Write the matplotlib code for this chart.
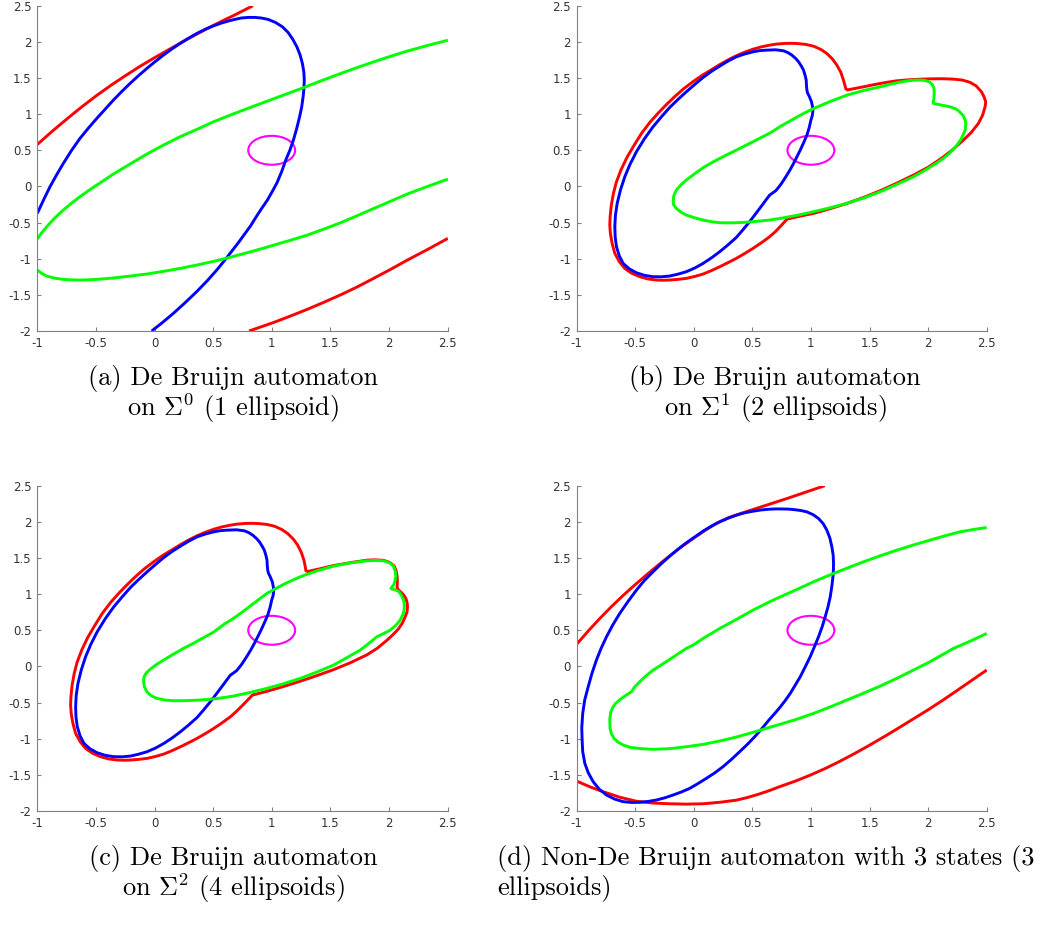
import matplotlib
matplotlib.use('Agg')
import matplotlib.pyplot as plt
from matplotlib.patches import Ellipse

plt.rcParams['axes.unicode_minus'] = False
plt.rcParams['mathtext.fontset'] = 'cm'

# ---------------- data ----------------
xticks = [-1, -0.5, 0, 0.5, 1, 1.5, 2, 2.5]
xticklabels = ['-1', '-0.5', '0', '0.5', '1', '1.5', '2', '2.5']
yticks = [-2, -1.5, -1, -0.5, 0, 0.5, 1, 1.5, 2, 2.5]
yticklabels = ['-2', '-1.5', '-1', '-0.5', '0', '0.5', '1', '1.5', '2', '2.5']

target_center = (1.0, 0.5)
target_size = (0.4, 0.4)

# panel (a)
red_a1_x = [-1.0, -0.875, -0.75, -0.625, -0.5, -0.375, -0.25, -0.125, 0.0, 0.125, 0.25,
            0.375, 0.5, 0.585, 0.67, 0.755, 0.84]
red_a1_y = [0.58, 0.76, 0.93, 1.095, 1.25, 1.395, 1.53, 1.66, 1.78, 1.895, 2.01,
            2.12, 2.225, 2.295, 2.36, 2.43, 2.50]
red_a2_x = [0.807, 0.91, 1.02, 1.16, 1.304, 1.446, 1.588, 1.73, 1.872, 2.014, 2.156, 2.33, 2.503]
red_a2_y = [-2.0, -1.942, -1.88, -1.793, -1.70, -1.602, -1.50, -1.39, -1.27, -1.148, -1.02,
            -0.872, -0.719]
green_a1_x = [-1.0, -0.96, -0.92, -0.85, -0.778, -0.707, -0.636, -0.565, -0.493, -0.351, -0.209,
              -0.066, 0.076, 0.218, 0.36, 0.503, 0.645, 0.773, 0.90, 1.02, 1.15, 1.276, 1.43,
              1.588, 1.73, 1.872, 2.014, 2.156, 2.33, 2.503]
green_a1_y = [-0.728, -0.635, -0.558, -0.435, -0.327, -0.23, -0.143, -0.06, 0.018, 0.171, 0.309,
              0.447, 0.571, 0.687, 0.788, 0.894, 0.986, 1.065, 1.142, 1.215, 1.293, 1.369, 1.466,
              1.562, 1.645, 1.724, 1.80, 1.872, 1.95, 2.022]
green_a2_x = [-1.0, -0.96, -0.92, -0.85, -0.778, -0.707, -0.636, -0.565, -0.493, -0.351, -0.209,
              -0.066, 0.076, 0.218, 0.36, 0.503, 0.645, 0.773, 0.90, 1.02, 1.16, 1.304, 1.446,
              1.588, 1.73, 1.872, 2.014, 2.156, 2.33, 2.503]
green_a2_y = [-1.157, -1.205, -1.24, -1.27, -1.286, -1.293, -1.295, -1.292, -1.286, -1.267, -1.240,
              -1.212, -1.175, -1.134, -1.088, -1.037, -0.98, -0.925, -0.868, -0.811, -0.745,
              -0.673, -0.59, -0.502, -0.405, -0.304, -0.205, -0.106, 0.0, 0.101]
blue_a_x = [-0.024, 0.07, 0.161, 0.26, 0.36, 0.45, 0.531, 0.59, 0.645, 0.71, 0.773, 0.82, 0.86,
            0.91, 0.963, 1.005, 1.045, 1.085, 1.12, 1.155, 1.185, 1.213, 1.238, 1.256, 1.268,
            1.275, 1.278, 1.274, 1.262, 1.242, 1.215, 1.18, 1.14, 1.09, 1.03, 0.97, 0.91, 0.855,
            0.80, 0.74, 0.645, 0.575, 0.503, 0.43, 0.36, 0.29, 0.218, 0.147, 0.076, 0.005,
            -0.066, -0.138, -0.209, -0.28, -0.351, -0.42, -0.493, -0.565, -0.636, -0.707,
            -0.778, -0.836, -0.892, -0.946, -1.0]
blue_a_y = [-2.0, -1.88, -1.756, -1.61, -1.456, -1.305, -1.157, -1.04, -0.926, -0.79, -0.65,
            -0.545, -0.44, -0.315, -0.19, -0.07, 0.05, 0.205, 0.364, 0.50, 0.64, 0.80, 0.963,
            1.10, 1.24, 1.355, 1.47, 1.585, 1.70, 1.82, 1.93, 2.035, 2.13, 2.21, 2.27, 2.31,
            2.33, 2.338, 2.338, 2.33, 2.295, 2.262, 2.221, 2.172, 2.115, 2.05, 1.977, 1.90,
            1.816, 1.726, 1.631, 1.53, 1.424, 1.312, 1.194, 1.07, 0.94, 0.805, 0.664, 0.50,
            0.318, 0.158, -0.005, -0.185, -0.373]

# panel (b)
red_b_x = [1.301, 1.29, 1.278, 1.255, 1.222, 1.185, 1.136, 1.085, 1.023, 0.955, 0.881, 0.83,
           0.776, 0.70, 0.648, 0.575, 0.506, 0.435, 0.364, 0.293, 0.222, 0.15, 0.07, -0.005,
           -0.083, -0.157, -0.228, -0.30, -0.372, -0.445, -0.512, -0.57, -0.62, -0.66, -0.685,
           -0.703, -0.713, -0.716, -0.711, -0.696, -0.673, -0.635, -0.588, -0.53, -0.46, -0.39,
           -0.318, -0.26, -0.205, -0.135, -0.063, 0.01, 0.08, 0.15, 0.222, 0.293, 0.364, 0.435,
           0.506, 0.577, 0.648, 0.70, 0.75, 0.797, 0.91, 1.023, 1.165, 1.307, 1.45, 1.591, 1.733,
           1.875, 2.0, 2.102, 2.2, 2.301, 2.37, 2.429, 2.465, 2.486, 2.492, 2.477, 2.455, 2.41,
           2.358, 2.29, 2.216, 2.12, 2.017, 1.945, 1.875, 1.805, 1.733, 1.662, 1.591, 1.52,
           1.449, 1.375, 1.301]
red_b_y = [1.332, 1.40, 1.47, 1.58, 1.677, 1.76, 1.839, 1.895, 1.94, 1.965, 1.977, 1.98,
           1.978, 1.968, 1.954, 1.93, 1.898, 1.857, 1.808, 1.75, 1.685, 1.613, 1.535, 1.45,
           1.355, 1.25, 1.14, 1.02, 0.89, 0.735, 0.56, 0.40, 0.23, 0.06, -0.097, -0.26,
           -0.419, -0.535, -0.65, -0.79, -0.926, -1.04, -1.134, -1.20, -1.249, -1.28, -1.295,
           -1.298, -1.295, -1.286, -1.272, -1.245, -1.212, -1.165, -1.111, -1.054, -0.995,
           -0.928, -0.857, -0.78, -0.696, -0.62, -0.535, -0.452, -0.41, -0.373, -0.308, -0.235,
           -0.152, -0.06, 0.045, 0.157, 0.265, 0.375, 0.495, 0.641, 0.75, 0.871, 0.985, 1.101,
           1.17, 1.24, 1.31, 1.39, 1.44, 1.472, 1.484, 1.49, 1.488, 1.484, 1.479, 1.471, 1.461,
           1.444, 1.424, 1.402, 1.378, 1.355, 1.332]
blue_b_x = [0.619, 0.56, 0.506, 0.435, 0.364, 0.293, 0.222, 0.15, 0.08, 0.01, -0.063, -0.135,
            -0.205, -0.275, -0.347, -0.42, -0.489, -0.545, -0.588, -0.625, -0.653, -0.668, -0.673,
            -0.67, -0.659, -0.635, -0.602, -0.55, -0.489, -0.42, -0.347, -0.275, -0.205, -0.135,
            -0.063, 0.01, 0.08, 0.15, 0.222, 0.293, 0.364, 0.42, 0.477, 0.535, 0.591, 0.62, 0.648,
            0.70, 0.739, 0.767, 0.795, 0.824, 0.852, 0.88, 0.909, 0.938, 0.966, 0.985, 1.0, 1.012,
            1.017, 1.014, 1.005, 0.985, 0.972, 0.966, 0.962, 0.96, 0.95, 0.937, 0.92, 0.895,
            0.87, 0.838, 0.805, 0.767, 0.70, 0.619]
blue_b_y = [1.885, 1.878, 1.862, 1.832, 1.793, 1.734, 1.664, 1.59, 1.507, 1.412, 1.309, 1.202,
            1.092, 0.964, 0.825, 0.66, 0.479, 0.30, 0.134, -0.05, -0.235, -0.40, -0.558, -0.70,
            -0.834, -0.96, -1.065, -1.14, -1.194, -1.23, -1.249, -1.25, -1.24, -1.214, -1.18,
            -1.128, -1.065, -0.99, -0.903, -0.808, -0.705, -0.60, -0.488, -0.365, -0.244, -0.18,
            -0.12, -0.06, 0.018, 0.085, 0.157, 0.235, 0.318, 0.408, 0.502, 0.605, 0.71, 0.81,
            0.917, 0.98, 1.04, 1.10, 1.171, 1.25, 1.29, 1.332, 1.40, 1.47, 1.54, 1.608, 1.66,
            1.724, 1.77, 1.816, 1.85, 1.876, 1.89, 1.885]
green_b_x = [-0.176, -0.17, -0.148, -0.11, -0.063, 0.008, 0.08, 0.15, 0.222, 0.293, 0.364,
             0.435, 0.506, 0.58, 0.66, 0.739, 0.81, 0.881, 0.95, 1.023, 1.165, 1.307, 1.45,
             1.591, 1.67, 1.75, 1.815, 1.88, 1.93, 1.965, 1.995, 2.02, 2.04, 2.05, 2.052, 2.05,
             2.043, 2.10, 2.19, 2.24, 2.27, 2.30, 2.315, 2.322, 2.32, 2.315, 2.30, 2.28, 2.25,
             2.215, 2.17, 2.12, 2.06, 1.97, 1.875, 1.733, 1.591, 1.45, 1.307, 1.165, 1.023, 0.88,
             0.739, 0.648, 0.506, 0.435, 0.364, 0.293, 0.222, 0.15, 0.08, 0.01, -0.063, -0.11,
             -0.148, -0.17, -0.176]
green_b_y = [-0.212, -0.13, -0.051, 0.02, 0.088, 0.175, 0.258, 0.325, 0.387, 0.446, 0.502,
             0.56, 0.618, 0.68, 0.747, 0.83, 0.895, 0.96, 1.02, 1.078, 1.175, 1.263, 1.327,
             1.378, 1.41, 1.44, 1.458, 1.47, 1.472, 1.468, 1.455, 1.435, 1.40, 1.355, 1.30, 1.22,
             1.15, 1.13, 1.10, 1.07, 1.03, 0.98, 0.92, 0.875, 0.83, 0.77, 0.72, 0.65, 0.58, 0.51,
             0.44, 0.375, 0.31, 0.22, 0.134, 0.028, -0.074, -0.16, -0.235, -0.295, -0.35, -0.40,
             -0.442, -0.465, -0.488, -0.497, -0.502, -0.504, -0.502, -0.488, -0.465, -0.435,
             -0.396, -0.355, -0.304, -0.26, -0.212]

# panel (c)
red_c_x = [1.294, 1.285, 1.275, 1.252, 1.222, 1.185, 1.136, 1.085, 1.023, 0.955, 0.881, 0.83,
           0.776, 0.70, 0.648, 0.575, 0.506, 0.435, 0.364, 0.293, 0.222, 0.15, 0.07, -0.005,
           -0.083, -0.157, -0.228, -0.30, -0.372, -0.445, -0.512, -0.57, -0.62, -0.66, -0.685,
           -0.703, -0.713, -0.716, -0.711, -0.696, -0.673, -0.635, -0.588, -0.53, -0.46, -0.39,
           -0.318, -0.26, -0.205, -0.135, -0.063, 0.01, 0.08, 0.15, 0.222, 0.293, 0.364, 0.435,
           0.506, 0.577, 0.648, 0.70, 0.75, 0.836, 0.958, 1.10, 1.243, 1.385, 1.527, 1.67, 1.812,
           1.90, 1.982, 2.035, 2.082, 2.115, 2.139, 2.155, 2.159, 2.155, 2.145, 2.125, 2.10,
           2.08, 2.07, 2.072, 2.07, 2.062, 2.045, 2.005, 1.954, 1.88, 1.812, 1.67, 1.527, 1.41,
           1.294]
red_c_y = [1.309, 1.39, 1.47, 1.58, 1.677, 1.76, 1.839, 1.895, 1.94, 1.965, 1.977, 1.98,
           1.978, 1.968, 1.954, 1.93, 1.898, 1.857, 1.808, 1.75, 1.685, 1.613, 1.535, 1.45,
           1.355, 1.25, 1.14, 1.02, 0.89, 0.735, 0.56, 0.40, 0.23, 0.06, -0.097, -0.26,
           -0.419, -0.535, -0.65, -0.79, -0.926, -1.04, -1.134, -1.20, -1.249, -1.28, -1.295,
           -1.298, -1.295, -1.286, -1.272, -1.245, -1.212, -1.165, -1.111, -1.054, -0.995,
           -0.928, -0.857, -0.78, -0.696, -0.62, -0.54, -0.396, -0.345, -0.278, -0.205, -0.128,
           -0.045, 0.05, 0.16, 0.25, 0.36, 0.44, 0.52, 0.60, 0.687, 0.755, 0.825, 0.885, 0.94,
           0.99, 1.03, 1.06, 1.09, 1.17, 1.25, 1.32, 1.39, 1.44, 1.468, 1.474, 1.47, 1.435,
           1.395, 1.35, 1.309]
blue_c_x = list(blue_b_x)
blue_c_y = list(blue_b_y)
green_c_x = [-0.094, -0.088, -0.07, -0.03, 0.02, 0.09, 0.162, 0.248, 0.333, 0.42, 0.50, 0.55,
             0.60, 0.665, 0.731, 0.845, 0.958, 1.10, 1.243, 1.385, 1.527, 1.67, 1.812, 1.885,
             1.954, 2.005, 2.039, 2.055, 2.059, 2.052, 2.04, 2.017, 2.05, 2.082, 2.108, 2.125,
             2.132, 2.13, 2.118, 2.096, 2.06, 2.011, 1.955, 1.897, 1.83, 1.755, 1.64, 1.527, 1.385,
             1.243, 1.10, 0.958, 0.816, 0.674, 0.532, 0.39, 0.276, 0.162, 0.09, 0.02, -0.03,
             -0.065, -0.088, -0.094]
green_c_y = [-0.189, -0.14, -0.09, -0.03, 0.03, 0.10, 0.17, 0.25, 0.32, 0.40, 0.47, 0.53, 0.59,
             0.655, 0.73, 0.87, 1.009, 1.135, 1.24, 1.322, 1.387, 1.433, 1.461, 1.466, 1.461,
             1.435, 1.387, 1.31, 1.24, 1.18, 1.13, 1.078, 1.06, 1.04, 0.98, 0.917, 0.85, 0.779,
             0.71, 0.641, 0.57, 0.502, 0.455, 0.41, 0.32, 0.226, 0.12, 0.018, -0.078, -0.166,
             -0.24, -0.304, -0.36, -0.41, -0.445, -0.465, -0.473, -0.475, -0.465, -0.442, -0.405,
             -0.35, -0.275, -0.189]

# panel (d)
red_d1_x = [-1.0, -0.9, -0.8, -0.7, -0.6, -0.5, -0.4, -0.3, -0.2, -0.1, 0.0, 0.1, 0.2, 0.3,
            0.4, 0.5, 0.6, 0.7, 0.8, 0.9, 1.0, 1.118]
red_d1_y = [0.304, 0.49, 0.665, 0.83, 0.985, 1.13, 1.27, 1.405, 1.535, 1.66, 1.775, 1.885,
            1.985, 2.06, 2.115, 2.168, 2.22, 2.272, 2.325, 2.38, 2.435, 2.50]
red_d2_x = [-1.0, -0.887, -0.773, -0.63, -0.489, -0.347, -0.205, -0.06, 0.08, 0.22, 0.364,
            0.455, 0.55, 0.645, 0.739, 0.87, 1.0, 1.125, 1.25, 1.375, 1.5, 1.625, 1.75, 1.875,
            2.0, 2.125, 2.25, 2.375, 2.5]
red_d2_y = [-1.585, -1.665, -1.733, -1.81, -1.865, -1.89, -1.90, -1.905, -1.90, -1.88, -1.85,
            -1.815, -1.77, -1.718, -1.66, -1.585, -1.50, -1.41, -1.31, -1.203, -1.09, -0.972,
            -0.85, -0.725, -0.60, -0.468, -0.33, -0.19, -0.05]
green_d_x = [2.5, 2.39, 2.273, 2.145, 2.017, 1.875, 1.733, 1.59, 1.449, 1.32, 1.193, 1.023,
             0.881, 0.739, 0.648, 0.506, 0.364, 0.222, 0.08, -0.006, -0.063, -0.135, -0.205,
             -0.275, -0.347, -0.4, -0.446, -0.503, -0.531, -0.588, -0.63, -0.665, -0.69, -0.707,
             -0.716, -0.714, -0.702, -0.68, -0.645, -0.6, -0.545, -0.45, -0.347, -0.205, -0.063,
             0.08, 0.222, 0.364, 0.506, 0.648, 0.739, 0.88, 1.023, 1.165, 1.307, 1.45, 1.591,
             1.733, 1.875, 2.017, 2.12, 2.216, 2.36, 2.5]
green_d_y = [1.922, 1.895, 1.862, 1.808, 1.747, 1.68, 1.608, 1.53, 1.447, 1.367, 1.286, 1.171,
             1.065, 0.963, 0.894, 0.779, 0.65, 0.525, 0.387, 0.295, 0.249, 0.172, 0.097, 0.022,
             -0.051, -0.12, -0.189, -0.281, -0.35, -0.41, -0.46, -0.51, -0.565, -0.63, -0.73,
             -0.857, -0.93, -0.995, -1.048, -1.088, -1.118, -1.138, -1.147, -1.138, -1.111,
             -1.078, -1.032, -0.977, -0.912, -0.843, -0.80, -0.73, -0.65, -0.56, -0.465, -0.37,
             -0.272, -0.165, -0.051, 0.065, 0.16, 0.249, 0.35, 0.456]
blue_d_x = [-0.952, -0.955, -0.947, -0.93, -0.9, -0.868, -0.83, -0.79, -0.744, -0.69, -0.631,
            -0.562, -0.489, -0.42, -0.347, -0.277, -0.205, -0.135, -0.063, 0.01, 0.08, 0.15,
            0.222, 0.293, 0.364, 0.435, 0.506, 0.577, 0.648, 0.705, 0.76, 0.81, 0.852, 0.91,
            0.966, 1.02, 1.065, 1.105, 1.136, 1.162, 1.179, 1.19, 1.193, 1.192, 1.188, 1.178,
            1.165, 1.146, 1.122, 1.096, 1.065, 1.03, 0.994, 0.952, 0.909, 0.866, 0.824, 0.782,
            0.739, 0.695, 0.648, 0.592, 0.534, 0.463, 0.392, 0.321, 0.25, 0.18, 0.108, 0.037,
            -0.034, -0.105, -0.176, -0.247, -0.318, -0.39, -0.46, -0.53, -0.602, -0.675, -0.744,
            -0.805, -0.858, -0.9, -0.929, -0.947, -0.952]
blue_d_y = [-1.018, -0.85, -0.65, -0.465, -0.28, -0.095, 0.088, 0.25, 0.41, 0.575, 0.733,
            0.895, 1.055, 1.19, 1.309, 1.42, 1.525, 1.62, 1.71, 1.792, 1.871, 1.94, 2.0, 2.05,
            2.092, 2.125, 2.147, 2.165, 2.175, 2.179, 2.178, 2.176, 2.17, 2.158, 2.138, 2.098,
            2.046, 1.975, 1.885, 1.775, 1.654, 1.54, 1.424, 1.33, 1.24, 1.10, 0.963, 0.825,
            0.687, 0.548, 0.41, 0.272, 0.134, -0.005, -0.143, -0.26, -0.373, -0.47, -0.56,
            -0.645, -0.73, -0.84, -0.949, -1.07, -1.18, -1.288, -1.387, -1.472, -1.548, -1.62,
            -1.687, -1.737, -1.779, -1.818, -1.848, -1.868, -1.88, -1.882, -1.871, -1.835,
            -1.779, -1.70, -1.594, -1.47, -1.341, -1.18, -1.018]

captions = {
    'a': ['(a) De Bruijn automaton', r'on $\Sigma^0$ (1 ellipsoid)'],
    'b': ['(b) De Bruijn automaton', r'on $\Sigma^1$ (2 ellipsoids)'],
    'c': ['(c) De Bruijn automaton', r'on $\Sigma^2$ (4 ellipsoids)'],
    'd': ['(d) Non-De Bruijn automaton with 3 states (3', 'ellipsoids)'],
}

# ---------------- figure ----------------
W, H = 1041, 936
fig = plt.figure(figsize=(W / 100, H / 100), dpi=100)

def px_axes(x0, x1, ytop, ybot):
    return fig.add_axes([x0 / W, 1 - ybot / H, (x1 - x0) / W, (ybot - ytop) / H])

axes = {
    'a': px_axes(37.3, 447.5, 5.7, 331.0),
    'b': px_axes(576.5, 986.7, 5.7, 331.0),
    'c': px_axes(37.3, 447.5, 485.7, 811.0),
    'd': px_axes(576.5, 986.7, 485.7, 811.0),
}

RED, GREEN, BLUE, MAG = '#ff0000', '#00ff00', '#0000ff', '#ff00ff'
LW = 2.1

curves = {
    'a': [(red_a1_x, red_a1_y, RED), (red_a2_x, red_a2_y, RED),
          (blue_a_x, blue_a_y, BLUE),
          (green_a1_x, green_a1_y, GREEN), (green_a2_x, green_a2_y, GREEN)],
    'b': [(red_b_x, red_b_y, RED), (blue_b_x, blue_b_y, BLUE), (green_b_x, green_b_y, GREEN)],
    'c': [(red_c_x, red_c_y, RED), (blue_c_x, blue_c_y, BLUE), (green_c_x, green_c_y, GREEN)],
    'd': [(red_d1_x, red_d1_y, RED), (red_d2_x, red_d2_y, RED),
          (blue_d_x, blue_d_y, BLUE), (green_d_x, green_d_y, GREEN)],
}

for key, ax in axes.items():
    for xs, ys, col in curves[key]:
        ax.plot(xs, ys, color=col, lw=LW, solid_joinstyle='round', solid_capstyle='butt')
    ax.add_patch(Ellipse(target_center, target_size[0], target_size[1],
                         facecolor='none', edgecolor=MAG, lw=1.5))
    ax.set_xlim(-1, 2.5)
    ax.set_ylim(-2, 2.5)
    ax.set_xticks(xticks)
    ax.set_xticklabels(xticklabels)
    ax.set_yticks(yticks)
    ax.set_yticklabels(yticklabels)
    for s in ('top', 'right'):
        ax.spines[s].set_visible(False)
    for s in ('left', 'bottom'):
        ax.spines[s].set_color('#808080')
        ax.spines[s].set_linewidth(0.8)
    ax.tick_params(direction='in', length=3, width=0.8, color='#808080',
                   labelcolor='#333333', labelsize=8.5, pad=4)

cap_font = dict(family=['cmr10', 'DejaVu Serif'], fontsize=19, color='black')
for key, cx, y1, y2 in [('a', 233, 378, 408), ('b', 775, 378, 408), ('c', 233, 858, 888)]:
    fig.text(cx / W, 1 - y1 / H, captions[key][0], ha='center', va='center', **cap_font)
    fig.text(cx / W, 1 - y2 / H, captions[key][1], ha='center', va='center', **cap_font)
fig.text(497 / W, 1 - 858 / H, captions['d'][0], ha='left', va='center', **cap_font)
fig.text(497 / W, 1 - 888 / H, captions['d'][1], ha='left', va='center', **cap_font)

fig.savefig('out.png', dpi=100)
